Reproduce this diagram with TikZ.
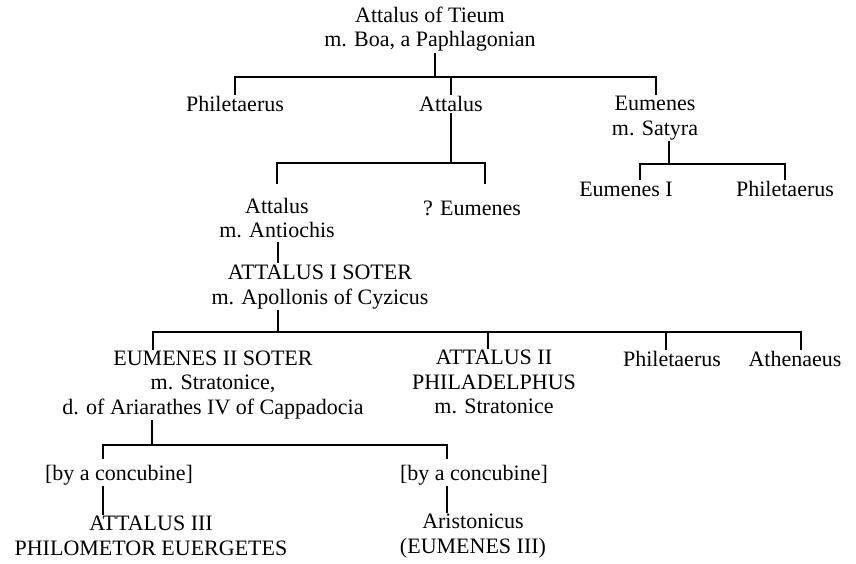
\documentclass[tikz,border=0pt]{standalone}
\usepackage{fontspec}
\setmainfont{Liberation Serif}
\begin{document}
\begin{tikzpicture}[x=1pt,y=-1pt,
  person/.style={align=center, inner xsep=0pt, inner ysep=2pt, font=\fontsize{22}{24.5}\selectfont},
  link/.style={line width=2pt, line cap=rect}]
\useasboundingbox[fill=white] (0,0) rectangle (856,564);
% people
\node[person] (a)  at (430,29)  {Attalus of Tieum\\m. Boa, a Paphlagonian};
\node[person] (b1) at (235,104) {Philetaerus};
\node[person] (b2) at (451,104) {Attalus};
\node[person] (b3) at (655,118) {Eumenes\\m. Satyra};
\node[person] (c1) at (277,218) {Attalus\\m. Antiochis};
\node[person] (c2) at (472,208) {? Eumenes};
\node[person] (d1) at (626,189) {Eumenes I};
\node[person] (d2) at (785,189) {Philetaerus};
\node[person] (e)  at (320,287) {ATTALUS I SOTER\\m. Apollonis of Cyzicus};
\node[person] (f1) at (213,385) {EUMENES II SOTER\\m. Stratonice,\\d. of Ariarathes IV of Cappadocia};
\node[person] (f2) at (494,382) {ATTALUS II\\PHILADELPHUS\\m. Stratonice};
\node[person] (f3) at (672,359) {Philetaerus};
\node[person] (f4) at (795,359) {Athenaeus};
\node[person] (g1) at (119,475) {[by a concubine]};
\node[person] (g2) at (474,475) {[by a concubine]};
\node[person] (h1) at (151,536) {ATTALUS III\\PHILOMETOR EUERGETES};
\node[person] (h2) at (473,536) {Aristonicus\\(EUMENES III)};
% junction points
\coordinate (j1)  at (435,77);
\coordinate (j1l) at (235,77);
\coordinate (j1r) at (656,77);
\coordinate (j2)  at (451,163);
\coordinate (j2l) at (277,163);
\coordinate (j2r) at (485,163);
\coordinate (j2le) at (277,183);
\coordinate (j2re) at (485,183);
\coordinate (j3)  at (669,164);
\coordinate (j3l) at (640,164);
\coordinate (j3r) at (785,164);
\coordinate (k1)  at (278,243);
\coordinate (k2)  at (278,262);
\coordinate (j4)  at (278,332);
\coordinate (j4a) at (153,332);
\coordinate (j4b) at (488,332);
\coordinate (j4c) at (666,332);
\coordinate (j4d) at (801,332);
\coordinate (j5)  at (152,445);
\coordinate (j5l) at (103,445);
\coordinate (j5r) at (447,445);
\coordinate (j5le) at (103,458);
\coordinate (j5re) at (447,458);
% generation 1
\draw[link] (a.south -| j1) -- (j1);
\draw[link] (b1.north -| j1l) -- (j1l) -- (j1r) -- (b3.north -| j1r);
\draw[link] (b2.north |- j1) -- (b2.north);
% generation 2
\draw[link] (b2.south) -- (j2);
\draw[link] (j2le) -- (j2l) -- (j2r) -- (j2re);
\draw[link] (b3.south -| j3) -- (j3);
\draw[link] (d1.north -| j3l) -- (j3l) -- (j3r) -- (d2.north);
% generation 3
\draw[link] (k1) -- (k2);
\draw[link] (e.south -| j4) -- (j4);
\draw[link] (f1.north -| j4a) -- (j4a) -- (j4d) -- (f4.north -| j4d);
\draw[link] (j4b) -- (f2.north -| j4b);
\draw[link] (j4c) -- (f3.north -| j4c);
% generation 4
\draw[link] (f1.south -| j5) -- (j5);
\draw[link] (j5le) -- (j5l) -- (j5r) -- (j5re);
\draw[link] (g1.south -| j5l) -- (h1.north -| j5l);
\draw[link] (g2.south -| j5r) -- (h2.north -| j5r);
\end{tikzpicture}
\end{document}
